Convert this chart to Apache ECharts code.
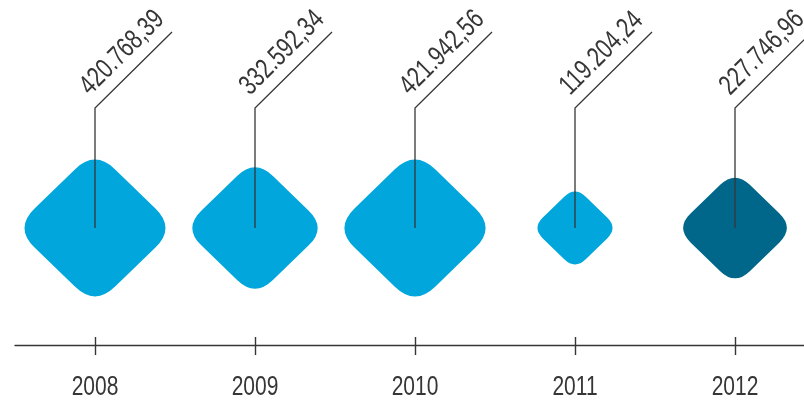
<!DOCTYPE html>
<html>
<head>
<meta charset="utf-8">
<script src="https://cdn.jsdelivr.net/npm/echarts@6/dist/echarts.min.js"></script>
<style>html,body{margin:0;padding:0;background:#fff}#c{width:804px;height:401px}</style>
</head>
<body>
<div id="c"></div>
<script>
const years = ['2008', '2009', '2010', '2011', '2012'];
const values = [420768.39, 332592.34, 421942.56, 119204.24, 227746.96];
const highlightYear = '2012';

const FONT = "'Liberation Sans', Arial, sans-serif";
const LIGHT = '#00a6dc';
const DARK = '#00678a';
const INK = '#363636';

function fmt(v) {
  const parts = v.toFixed(2).split('.');
  const int = parts[0].replace(/\B(?=(\d{3})+(?!\d))/g, '.');
  return int + ',' + parts[1];
}

const diamond = 'path://M37.5 12.5 Q50 0 62.5 12.5 L87.5 37.5 Q100 50 87.5 62.5 L62.5 87.5 Q50 100 37.5 87.5 L12.5 62.5 Q0 50 12.5 37.5 Z';
const K = 0.2174;
const TEXT_ROT = 45 * Math.PI / 180;

const chart = echarts.init(document.getElementById('c'));
chart.setOption({
  animation: false,
  grid: { left: 15, width: 800, top: 111, bottom: 56, outerBoundsMode: 'none', containLabel: false },
  xAxis: [{
    type: 'category',
    data: years,
    boundaryGap: true,
    axisLine: { show: true, onZero: false, lineStyle: { color: INK, width: 1.4 } },
    axisTick: { show: true, alignWithLabel: true, interval: 0, length: 10, lineStyle: { color: INK, width: 1.4 } },
    axisLabel: { show: false, interval: 0 }
  }, {
    type: 'category',
    data: years,
    position: 'bottom',
    boundaryGap: true,
    axisLine: { show: false, onZero: false },
    axisTick: { show: true, inside: true, alignWithLabel: true, interval: 0, length: 8, lineStyle: { color: INK, width: 1.4 } },
    axisLabel: { show: false, interval: 0 }
  }],
  yAxis: { type: 'value', min: -1, max: 1, show: false },
  series: [{
    type: 'scatter',
    data: years.map((y, i) => ({
      value: [y, 0, values[i]],
      itemStyle: { color: y === highlightYear ? DARK : LIGHT, opacity: 1 }
    })),
    symbol: diamond,
    symbolSize: function (d) { const s = K * Math.sqrt(d[2]); return [s, s * 0.97]; },
    emphasis: { disabled: true },
    z: 2
  }, {
    type: 'custom',
    clip: false,
    z: 3,
    silent: true,
    data: years.map((y, i) => [y, 0, values[i]]),
    renderItem: function (params, api) {
      const p = api.coord([api.value(0), 0]);
      const axisY = api.coord([api.value(0), -1])[1];
      const x = p[0], y = p[1];
      const topY = y - 120;
      return {
        type: 'group',
        children: [{
          type: 'polyline',
          shape: { points: [[x, y], [x, topY], [x + 77, topY - 76]] },
          style: { stroke: INK, lineWidth: 1.3, fill: null }
        }, {
          type: 'group',
          x: x - 0.6,
          y: topY - 7.6,
          rotation: TEXT_ROT,
          children: [{
            type: 'text',
            scaleX: 0.76,
            style: {
              text: fmt(api.value(2)),
              x: 0, y: 0,
              align: 'left',
              verticalAlign: 'bottom',
              fill: INK,
              fontFamily: FONT,
              fontSize: 28
            }
          }]
        }, {
          type: 'text',
          x: x,
          y: axisY + 42,
          scaleX: 0.75,
          style: {
            text: years[api.value(0)],
            x: 0, y: 0,
            align: 'center',
            verticalAlign: 'middle',
            fill: INK,
            fontFamily: FONT,
            fontSize: 28
          }
        }]
      };
    }
  }]
});
</script>
</body>
</html>
